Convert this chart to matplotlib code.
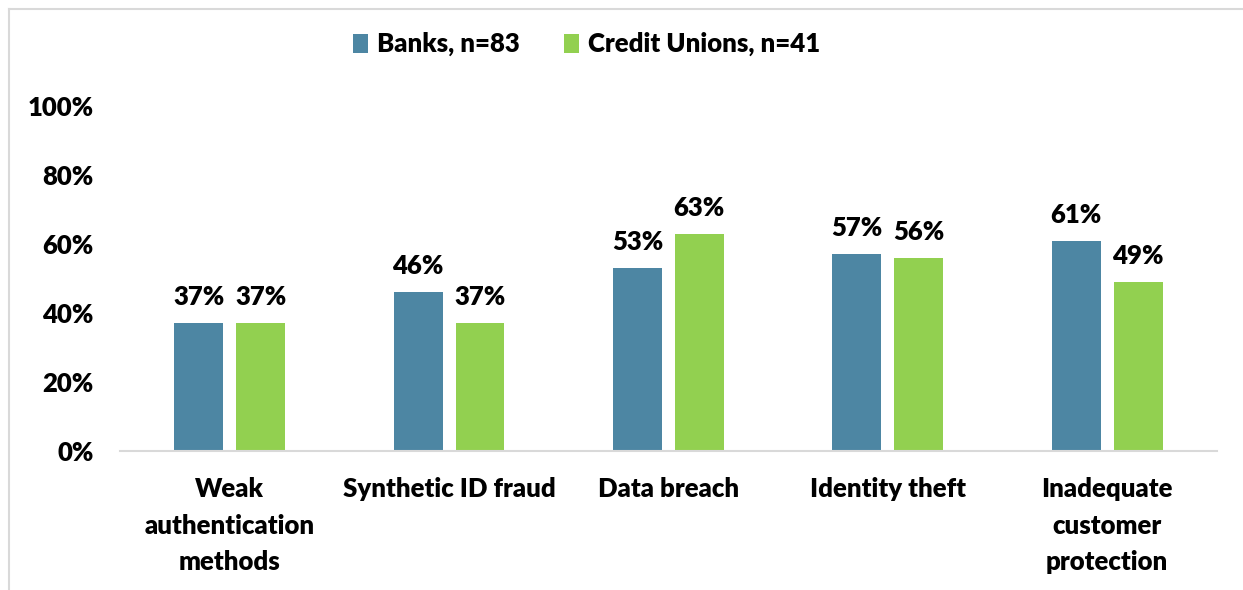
import matplotlib.pyplot as plt
from matplotlib.lines import Line2D
import numpy as np

categories = ['Weak\nauthentication\nmethods', 'Synthetic ID fraud', 'Data breach',
              'Identity theft', 'Inadequate\ncustomer\nprotection']
banks = [37, 46, 53, 57, 61]
credit_unions = [37, 37, 63, 56, 49]
series_names = ['Banks, n=83', 'Credit Unions, n=41']
yticks = [0, 20, 40, 60, 80, 100]

blue = '#4D86A3'
green = '#92D050'
fs = 18.5
wt = 'heavy'

plt.rcParams['font.family'] = ['Lato', 'DejaVu Sans']

fig = plt.figure(figsize=(12.43, 5.90), dpi=100)
ax = fig.add_axes([0.0965, 0.2356, 0.979 - 0.0965, 0.8203 - 0.2356])

x = np.arange(len(categories))
w = 0.223
off = 0.141
b1 = ax.bar(x - off, banks, w, color=blue, label=series_names[0])
b2 = ax.bar(x + off, credit_unions, w, color=green, label=series_names[1])

# value labels above each bar
for bars, vals in [(b1, banks), (b2, credit_unions)]:
    for r, v in zip(bars, vals):
        ax.annotate('%d%%' % v, (r.get_x() + r.get_width() / 2, v),
                    xytext=(0, 10), textcoords='offset points',
                    ha='center', va='bottom', fontsize=fs, fontweight=wt)

ax.set_xlim(-0.5, len(categories) - 0.5)
ax.set_ylim(0, 100)
ax.set_yticks(yticks)
ax.set_yticklabels(['%d%%' % t for t in yticks], fontsize=fs, fontweight=wt)
ax.set_xticks(x)
ax.set_xticklabels(categories, fontsize=fs, fontweight=wt, linespacing=1.62, va='top')
ax.tick_params(axis='both', length=0)
ax.tick_params(axis='y', pad=19)
ax.tick_params(axis='x', pad=19)
for s in ['top', 'right', 'left']:
    ax.spines[s].set_visible(False)
ax.spines['bottom'].set_color('#D9D9D9')
ax.spines['bottom'].set_linewidth(1.5)

fig.legend(loc='center', bbox_to_anchor=(0.472, 0.925), ncol=2, frameon=False,
           prop={'size': fs, 'weight': wt}, handlelength=0.6, handleheight=0.75,
           handletextpad=0.35, columnspacing=1.7)

# outer frame edges
fig.add_artist(Line2D([9 / 1243, 1], [1 - 8.5 / 590] * 2, color='#D9D9D9', lw=1.5))
fig.add_artist(Line2D([9 / 1243] * 2, [0, 1 - 8.5 / 590], color='#D9D9D9', lw=1.5))

fig.savefig('out.png', dpi=100)
